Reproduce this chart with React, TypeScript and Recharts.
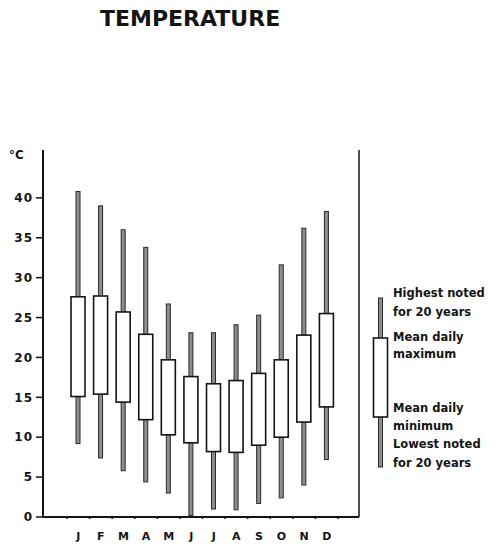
import React from "react";
import { Bar, ComposedChart, XAxis, YAxis } from "recharts";

const monthKeys = ["jan", "feb", "mar", "apr", "may", "jun", "jul", "aug", "sep", "oct", "nov", "dec"];
const monthLabels = ["J", "F", "M", "A", "M", "J", "J", "A", "S", "O", "N", "D"];
const highest = [40.8, 39.0, 36.0, 33.8, 26.7, 23.1, 23.1, 24.1, 25.3, 31.6, 36.2, 38.3];
const meanMax = [27.6, 27.7, 25.7, 22.9, 19.7, 17.6, 16.7, 17.1, 18.0, 19.7, 22.8, 25.5];
const meanMin = [15.1, 15.4, 14.4, 12.2, 10.3, 9.3, 8.2, 8.1, 9.0, 10.0, 11.9, 13.8];
const lowest = [9.2, 7.4, 5.8, 4.4, 3.0, 0.2, 1.0, 0.9, 1.7, 2.4, 4.0, 7.2];
const yTicks = [0, 5, 10, 15, 20, 25, 30, 35, 40];

const data = monthKeys.map((key, i) => ({
  key,
  label: monthLabels[i],
  high: highest[i],
  max: meanMax[i],
  min: meanMin[i],
  low: lowest[i],
}));

const FONT = "'DejaVu Sans', Verdana, sans-serif";
const INK = "#141414";

// whisker = lowest..highest, box = mean min..mean max
const WhiskerBox = (props: any) => {
  const { x, y, width, height, payload } = props;
  const cx = x + width / 2;
  const span = payload.high - payload.low;
  const py = (v: number) => y + (height * (payload.high - v)) / span;
  const top = py(payload.max);
  const bottom = py(payload.min);
  return (
    <g>
      <rect x={cx - 2} y={y} width={4} height={height} fill="#8e8e8e" stroke="#2a2a2a" strokeWidth={1} />
      <rect x={x} y={top} width={width} height={bottom - top} fill="#fff" stroke={INK} strokeWidth={1.6} />
    </g>
  );
};

const MonthTick = (props: any) => {
  const { x, y, payload, index } = props;
  const half = payload.offset || 11.3;
  return (
    <g>
      <line x1={x - half} x2={x - half} y1={y} y2={y - 3} stroke={INK} strokeWidth={1.5} />
      {index === monthKeys.length - 1 && (
        <line x1={x + half} x2={x + half} y1={y} y2={y - 3} stroke={INK} strokeWidth={1.5} />
      )}
      <text x={x} y={y + 21} textAnchor="middle" fontFamily={FONT} fontWeight="bold" fontSize={11} fill={INK}>
        {monthLabels[index]}
      </text>
    </g>
  );
};

const legendText = [
  { t: "Highest noted", y: 297 },
  { t: "for 20 years", y: 316 },
  { t: "Mean daily", y: 341 },
  { t: "maximum", y: 358 },
  { t: "Mean daily", y: 412 },
  { t: "minimum", y: 430 },
  { t: "Lowest noted", y: 448 },
  { t: "for 20 years", y: 467 },
];

export default function App() {
  return (
    <div style={{ position: "relative", width: 499, height: 550, background: "#fff" }}>
      <style>{"body{margin:0}"}</style>
      <ComposedChart width={499} height={550} data={data} margin={{ top: 150, right: 139, bottom: 3, left: 0 }}>
        <XAxis
          dataKey="key"
          height={30}
          padding={{ left: 24, right: 21 }}
          axisLine={{ stroke: INK, strokeWidth: 2 }}
          tickLine={false}
          tickSize={0}
          tick={<MonthTick />}
          interval={0}
        />
        <YAxis
          domain={[0, 46]}
          ticks={yTicks}
          width={43}
          tickSize={7}
          tickMargin={3}
          axisLine={{ stroke: INK, strokeWidth: 2 }}
          tickLine={{ stroke: INK, strokeWidth: 1.5 }}
          tick={{ fill: INK, fontFamily: FONT, fontWeight: "bold", fontSize: 12, letterSpacing: 1 }}
          allowDataOverflow
        />
        <YAxis
          yAxisId="r"
          orientation="right"
          domain={[0, 46]}
          width={1}
          tick={false}
          tickLine={false}
          axisLine={{ stroke: INK, strokeWidth: 1.5 }}
        />
        <Bar
          dataKey={(d: any) => [d.low, d.high]}
          barSize={14}
          shape={<WhiskerBox />}
          isAnimationActive={false}
        />
      </ComposedChart>
      <svg width={499} height={550} style={{ position: "absolute", left: 0, top: 0, pointerEvents: "none" }}>
        <text x={100} y={26} fontFamily={FONT} fontWeight="bold" fontSize={22} fill={INK}>
          TEMPERATURE
        </text>
        <text x={9} y={159} fontFamily={FONT} fontWeight="bold" fontSize={12} fill={INK}>
          °C
        </text>
        <rect x={378.5} y={298} width={4} height={169} fill="#8e8e8e" stroke="#2a2a2a" strokeWidth={1} />
        <rect x={373.5} y={338} width={14} height={79} fill="#fff" stroke={INK} strokeWidth={1.6} />
        {legendText.map((l, i) => (
          <text key={i} x={393} y={l.y} fontFamily={FONT} fontWeight="bold" fontSize={11.5} fill={INK}>
            {l.t}
          </text>
        ))}
      </svg>
    </div>
  );
}
